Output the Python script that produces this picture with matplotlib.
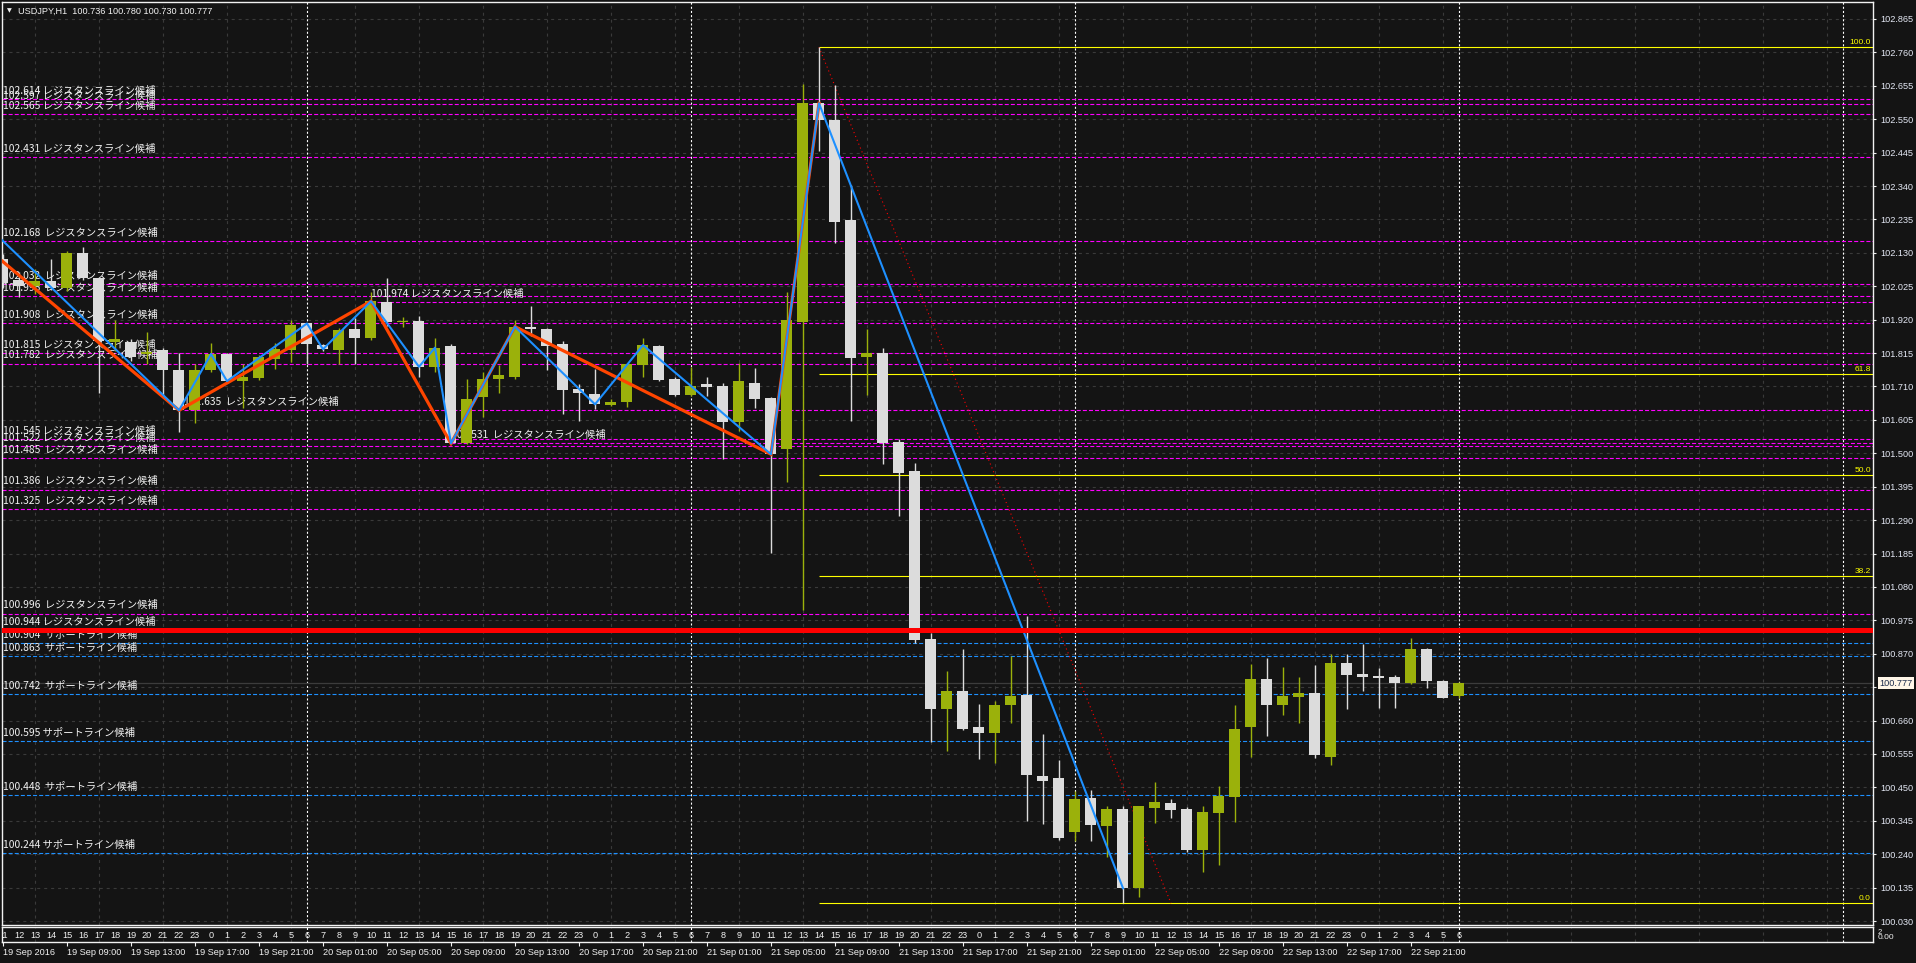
import matplotlib
matplotlib.use("Agg")
import matplotlib.pyplot as plt
import numpy as np
import pandas as pd

plt.rcParams['font.family'] = ['Noto Sans CJK JP', 'DejaVu Sans']
plt.rcParams['lines.scale_dashes'] = False

# ---------------- data ----------------
symbol = "USDJPY,H1"
first_bar = "2016-09-19 05:00"   # server time of the first bar
jst_shift = 6                     # hour labels in the sub window are server time + 6

opens = [102.110, 102.045, 102.025, 102.040, 102.018, 102.131, 102.050, 101.850, 101.850, 101.812,
         101.824, 101.763, 101.635, 101.763, 101.812, 101.727, 101.738, 101.797, 101.826, 101.908,
         101.840, 101.826, 101.892, 101.861, 101.976, 101.912, 101.916, 101.770, 101.837, 101.531,
         101.677, 101.733, 101.740, 101.898, 101.890, 101.843, 101.701, 101.686, 101.652, 101.660,
         101.777, 101.837, 101.733, 101.683, 101.717, 101.712, 101.597, 101.722, 101.674, 101.512,
         101.912, 102.600, 102.547, 102.233, 101.803, 101.816, 101.534, 101.444, 100.915, 100.695,
         100.752, 100.639, 100.621, 100.708, 100.739, 100.485, 100.478, 100.309, 100.418, 100.328,
         100.381, 100.133, 100.385, 100.400, 100.381, 100.252, 100.371, 100.420, 100.639, 100.790,
         100.708, 100.733, 100.746, 100.547, 100.840, 100.805, 100.799, 100.796, 100.777, 100.884,
         100.783, 100.736]
highs = [102.125, 102.070, 102.080, 102.112, 102.135, 102.149, 102.050, 101.918, 101.860, 101.882,
         101.830, 101.814, 101.782, 101.847, 101.815, 101.782, 101.810, 101.847, 101.918, 101.910,
         101.845, 101.895, 101.924, 102.008, 102.050, 101.928, 101.931, 101.863, 101.845, 101.732,
         101.756, 101.777, 101.920, 101.962, 101.893, 101.852, 101.717, 101.766, 101.670, 101.782,
         101.861, 101.840, 101.740, 101.772, 101.740, 101.720, 101.784, 101.767, 101.676, 102.008,
         102.661, 102.776, 102.657, 102.343, 101.890, 101.832, 101.546, 101.470, 100.936, 100.815,
         100.886, 100.711, 100.720, 100.863, 100.988, 100.617, 100.535, 100.440, 100.443, 100.390,
         100.393, 100.390, 100.466, 100.415, 100.389, 100.393, 100.453, 100.708, 100.837, 100.856,
         100.827, 100.796, 100.834, 100.868, 100.870, 100.900, 100.824, 100.802, 100.918, 100.887,
         100.789, 100.780]
lows = [102.020, 101.990, 102.000, 102.012, 102.010, 102.045, 101.688, 101.820, 101.790, 101.782,
        101.677, 101.567, 101.596, 101.755, 101.720, 101.641, 101.730, 101.766, 101.787, 101.782,
        101.820, 101.782, 101.782, 101.855, 101.900, 101.898, 101.740, 101.756, 101.529, 101.528,
        101.615, 101.688, 101.735, 101.870, 101.761, 101.625, 101.602, 101.640, 101.648, 101.646,
        101.740, 101.728, 101.680, 101.680, 101.680, 101.483, 101.570, 101.641, 101.186, 101.410,
        101.007, 102.451, 102.160, 101.602, 101.683, 101.466, 101.303, 100.905, 100.593, 100.564,
        100.630, 100.539, 100.526, 100.652, 100.344, 100.335, 100.285, 100.283, 100.281, 100.231,
        100.086, 100.107, 100.338, 100.353, 100.247, 100.184, 100.205, 100.340, 100.547, 100.610,
        100.679, 100.651, 100.541, 100.519, 100.695, 100.752, 100.698, 100.701, 100.776, 100.761,
        100.730, 100.730]
closes = [102.035, 102.025, 102.040, 102.018, 102.131, 102.050, 101.852, 101.858, 101.803, 101.819,
          101.763, 101.635, 101.761, 101.812, 101.727, 101.740, 101.802, 101.827, 101.903, 101.845,
          101.827, 101.889, 101.861, 101.978, 101.912, 101.915, 101.772, 101.832, 101.531, 101.672,
          101.735, 101.745, 101.898, 101.890, 101.838, 101.698, 101.688, 101.654, 101.660, 101.780,
          101.840, 101.730, 101.683, 101.712, 101.709, 101.597, 101.727, 101.672, 101.497, 101.918,
          102.600, 102.547, 102.227, 101.800, 101.816, 101.531, 101.438, 100.912, 100.695, 100.752,
          100.633, 100.621, 100.708, 100.737, 100.489, 100.470, 100.291, 100.415, 100.331, 100.381,
          100.133, 100.390, 100.403, 100.379, 100.252, 100.374, 100.422, 100.635, 100.790, 100.708,
          100.736, 100.746, 100.551, 100.840, 100.802, 100.796, 100.793, 100.777, 100.884, 100.783,
          100.730, 100.777]

# resistance candidates (magenta); start bar nan = from the left edge
res_levels = [102.614, 102.597, 102.565, 102.431, 102.168, 102.032, 101.995, 101.974, 101.908,
              101.815, 101.782, 101.635, 101.545, 101.531, 101.522, 101.485, 101.386, 101.325,
              100.996, 100.944]
res_start = [np.nan, np.nan, np.nan, np.nan, np.nan, np.nan, np.nan, 23, np.nan,
             np.nan, np.nan, 11.3, np.nan, 28, np.nan, np.nan, np.nan, np.nan,
             np.nan, np.nan]
res_gap = [" ", " ", " ", " ", "  ", "  ", "  ", " ", "  ",
           " ", "  ", "  ", " ", "  ", " ", "  ", "  ", "  ",
           "  ", " "]
# support candidates (blue)
sup_levels = [100.904, 100.863, 100.742, 100.595, 100.425, 100.244]
sup_text = ["100.904", "100.863", "100.742", "100.595", "100.448", "100.244"]
sup_gap = ["  ", "  ", "  ", " ", "  ", " "]

key_level = 100.944

# zigzags (bar index, price)
zz_red_x = [-2, 11, 23, 28, 32, 48, 51]
zz_red_y = [102.187, 101.635, 101.978, 101.531, 101.898, 101.497, 102.600]
zz_blue_x = [-2, 11, 13, 14, 19, 20, 23, 26, 27, 28, 32, 37, 40, 48, 51, 70]
zz_blue_y = [102.264, 101.635, 101.812, 101.727, 101.908, 101.827, 101.978, 101.772, 101.832,
             101.531, 101.898, 101.654, 101.840, 101.497, 102.600, 100.133]

# fibonacci retracement anchors
fib_x = [51, 73]
fib_y = [102.776, 100.086]
fib_ratios = [1.0, 0.618, 0.5, 0.382, 0.0]
fib_names = ["100.0", "61.8", "50.0", "38.2", "0.0"]

price_ticks = [102.865, 102.760, 102.655, 102.550, 102.445, 102.340, 102.235, 102.130, 102.025,
               101.920, 101.815, 101.710, 101.605, 101.500, 101.395, 101.290, 101.185, 101.080,
               100.975, 100.870, 100.765, 100.660, 100.555, 100.450, 100.345, 100.240, 100.135,
               100.030]

# ---------------- style ----------------
BG = '#141414'
BULL = '#9BB10B'
BEAR = '#DCDCDC'
GRID = '#3A3A3A'
FG = '#F2F2F2'
W, H = 1916, 963
L, R, T, B = 2, 1873, 2, 925
SUB_T, SUB_B = 927, 942
PX_BAR, X0 = 16.0, 3.0
PX_PRICE, P0, Y0 = 318.17, 102.865, 19.0

fig = plt.figure(figsize=(W / 100, H / 100), dpi=100, facecolor=BG)
ax = fig.add_axes([L / W, 1 - B / H, (R - L) / W, (B - T) / H], facecolor=BG)
sub = fig.add_axes([L / W, 1 - SUB_B / H, (R - L) / W, (SUB_B - SUB_T) / H], facecolor=BG)

xmin, xmax = (L - X0) / PX_BAR, (R - X0) / PX_BAR
ymin = P0 - (B - Y0) / PX_PRICE
ymax = P0 + (Y0 - T) / PX_PRICE

o = np.array(opens); h = np.array(highs); l = np.array(lows); c = np.array(closes)
n = len(o)
idx = np.arange(n)
times = pd.date_range(first_bar, periods=int(xmax) + 2, freq='h')

for a in (ax, sub):
    a.set_xlim(xmin, xmax)
    for s in a.spines.values():
        s.set_color(FG)
        s.set_linewidth(1.0)
    # vertical grid (every 4 bars) and day separators
    for k in range(2, int(xmax) + 1, 4):
        a.axvline(k, color=GRID, lw=0.8, ls=(0, (2.2, 2.8)), zorder=0.5)
    for k in np.where(times.hour == 0)[0]:
        a.axvline(k, color='white', lw=0.8, ls=(0, (1.5, 1.5)), zorder=0.6)

ax.set_ylim(ymin, ymax)
for p in price_ticks:
    ax.axhline(p, color=GRID, lw=0.8, ls=(0, (2.2, 2.8)), zorder=0.5)

# level lines
for lv, st in zip(res_levels, res_start):
    x_from = xmin if np.isnan(st) else st
    ax.hlines(lv, x_from, xmax, color='#FF00FF', lw=0.8, ls=(0, (2.9, 1.5)), zorder=1)
for lv in sup_levels:
    ax.hlines(lv, xmin, xmax, color='#1E90FF', lw=0.8, ls=(0, (2.9, 1.5)), zorder=1)

# bid line
ax.axhline(c[-1], color='#3C3C3C', lw=0.9, zorder=1)

# fibonacci
for r, name in zip(fib_ratios, fib_names):
    lv = fib_y[1] + r * (fib_y[0] - fib_y[1])
    ax.hlines(lv, fib_x[0], xmax, color='#FFFF00', lw=0.8, zorder=2.5)
    ax.annotate(name, xy=(1, lv), xycoords=('axes fraction', 'data'), xytext=(-1.5, 1.2),
                textcoords='offset points', ha='right', va='bottom', color='#FFFF00',
                fontsize=6, family=['Liberation Sans', 'DejaVu Sans'], zorder=5)
ax.plot(fib_x, fib_y, color='#FF0000', lw=0.8, ls=(0, (0.8, 2.2)), zorder=2.6)

# labels for the level lines
lbl_kw = dict(textcoords='offset points', ha='left', va='baseline', color=FG,
              fontsize=7.4, zorder=2)
for lv, st, gap in zip(res_levels, res_start, res_gap):
    txt = f"{lv:.3f}{gap}レジスタンスライン候補"
    if np.isnan(st):
        ax.annotate(txt, xy=(0, lv), xycoords=('axes fraction', 'data'), xytext=(1, 3.8), **lbl_kw)
    else:
        ax.annotate(txt, xy=(st, lv), xycoords='data', xytext=(0, 3.8), **lbl_kw)
for lv, t, gap in zip(sup_levels, sup_text, sup_gap):
    ax.annotate(f"{t}{gap}サポートライン候補", xy=(0, lv), xycoords=('axes fraction', 'data'),
                xytext=(1, 3.8), **lbl_kw)

# candles
up = c >= o
body_lo = np.minimum(o, c)
body_h = np.maximum(np.abs(c - o), 0.0035)
ax.vlines(idx[up], l[up], h[up], color=BULL, lw=1.0, zorder=3)
ax.vlines(idx[~up], l[~up], h[~up], color=BEAR, lw=1.0, zorder=3)
ax.bar(idx[up], body_h[up], bottom=body_lo[up], width=11 / PX_BAR, color=BULL, lw=0, zorder=3.1)
ax.bar(idx[~up], body_h[~up], bottom=body_lo[~up], width=11 / PX_BAR, color=BEAR, lw=0, zorder=3.1)

# zigzags and key level
ax.plot(zz_red_x, zz_red_y, color='#FF4500', lw=2.3, zorder=4, solid_joinstyle='miter')
ax.plot(zz_blue_x, zz_blue_y, color='#1E90FF', lw=1.5, zorder=4.1)
ax.axhline(key_level, color='#FF0000', lw=3.6, zorder=4.2)

# right price scale
small = ['Liberation Sans', 'DejaVu Sans']
ax.yaxis.tick_right()
ax.set_yticks(price_ticks)
ax.set_yticklabels([("" if abs(p - c[-1]) < 0.03 else f"{p:.3f}") for p in price_ticks],
                   family=small, fontsize=6.6)
ax.tick_params(axis='y', colors=FG, length=2.5, width=0.8, pad=2.5, labelcolor='#E4E8F4')
ax.set_xticks([])
ax.annotate(f"{c[-1]:.3f}", xy=(1, c[-1]), xycoords=('axes fraction', 'data'), xytext=(4.5, 0),
            textcoords='offset points', ha='left', va='center', color='#1A2A4A', fontsize=6.6,
            family=small, annotation_clip=False, zorder=10,
            bbox=dict(boxstyle='square,pad=0.18', fc='#FFF6E8', ec='none'))

# title
fig.text(7 / W, 1 - 11 / H, "▼", color=FG, fontsize=4.5, family=['DejaVu Sans'], va='center')
fig.text(18 / W, 1 - 11 / H,
         f"{symbol}  {o[-1]:.3f} {h[-1]:.3f} {l[-1]:.3f} {c[-1]:.3f}",
         color=FG, fontsize=6.6, family=small, va='center')

# sub window: JST hour numbers
sub.set_ylim(0, 1)
sub.set_yticks([])
for i in idx:
    hr = (times[i] + pd.Timedelta(hours=jst_shift)).hour
    sub.text(i, 0.45, str(hr), ha='center', va='center', color=FG, fontsize=6.6,
             family=small, clip_on=True)
fig.text((R + 5) / W, 1 - 932 / H, "2", color=FG, fontsize=5.5, family=small, va='center')
fig.text((R + 5) / W, 1 - 937 / H, "0.00", color=FG, fontsize=6, family=small, va='center')

# date scale
tick_bars = list(range(0, n, 4))
tick_lbls = []
for k in tick_bars:
    t = times[k]
    tick_lbls.append(t.strftime("%d %b %Y") if k == 0 else t.strftime("%d %b %H:%M"))
sub.set_xticks(tick_bars)
sub.set_xticklabels(tick_lbls, family=small, fontsize=6.6, color=FG)
for lb in sub.get_xticklabels():
    lb.set_horizontalalignment('left')
sub.tick_params(axis='x', colors=FG, length=3, width=0.8, pad=1.5, labelcolor=FG)

fig.savefig("out.png", dpi=100, facecolor=BG)
